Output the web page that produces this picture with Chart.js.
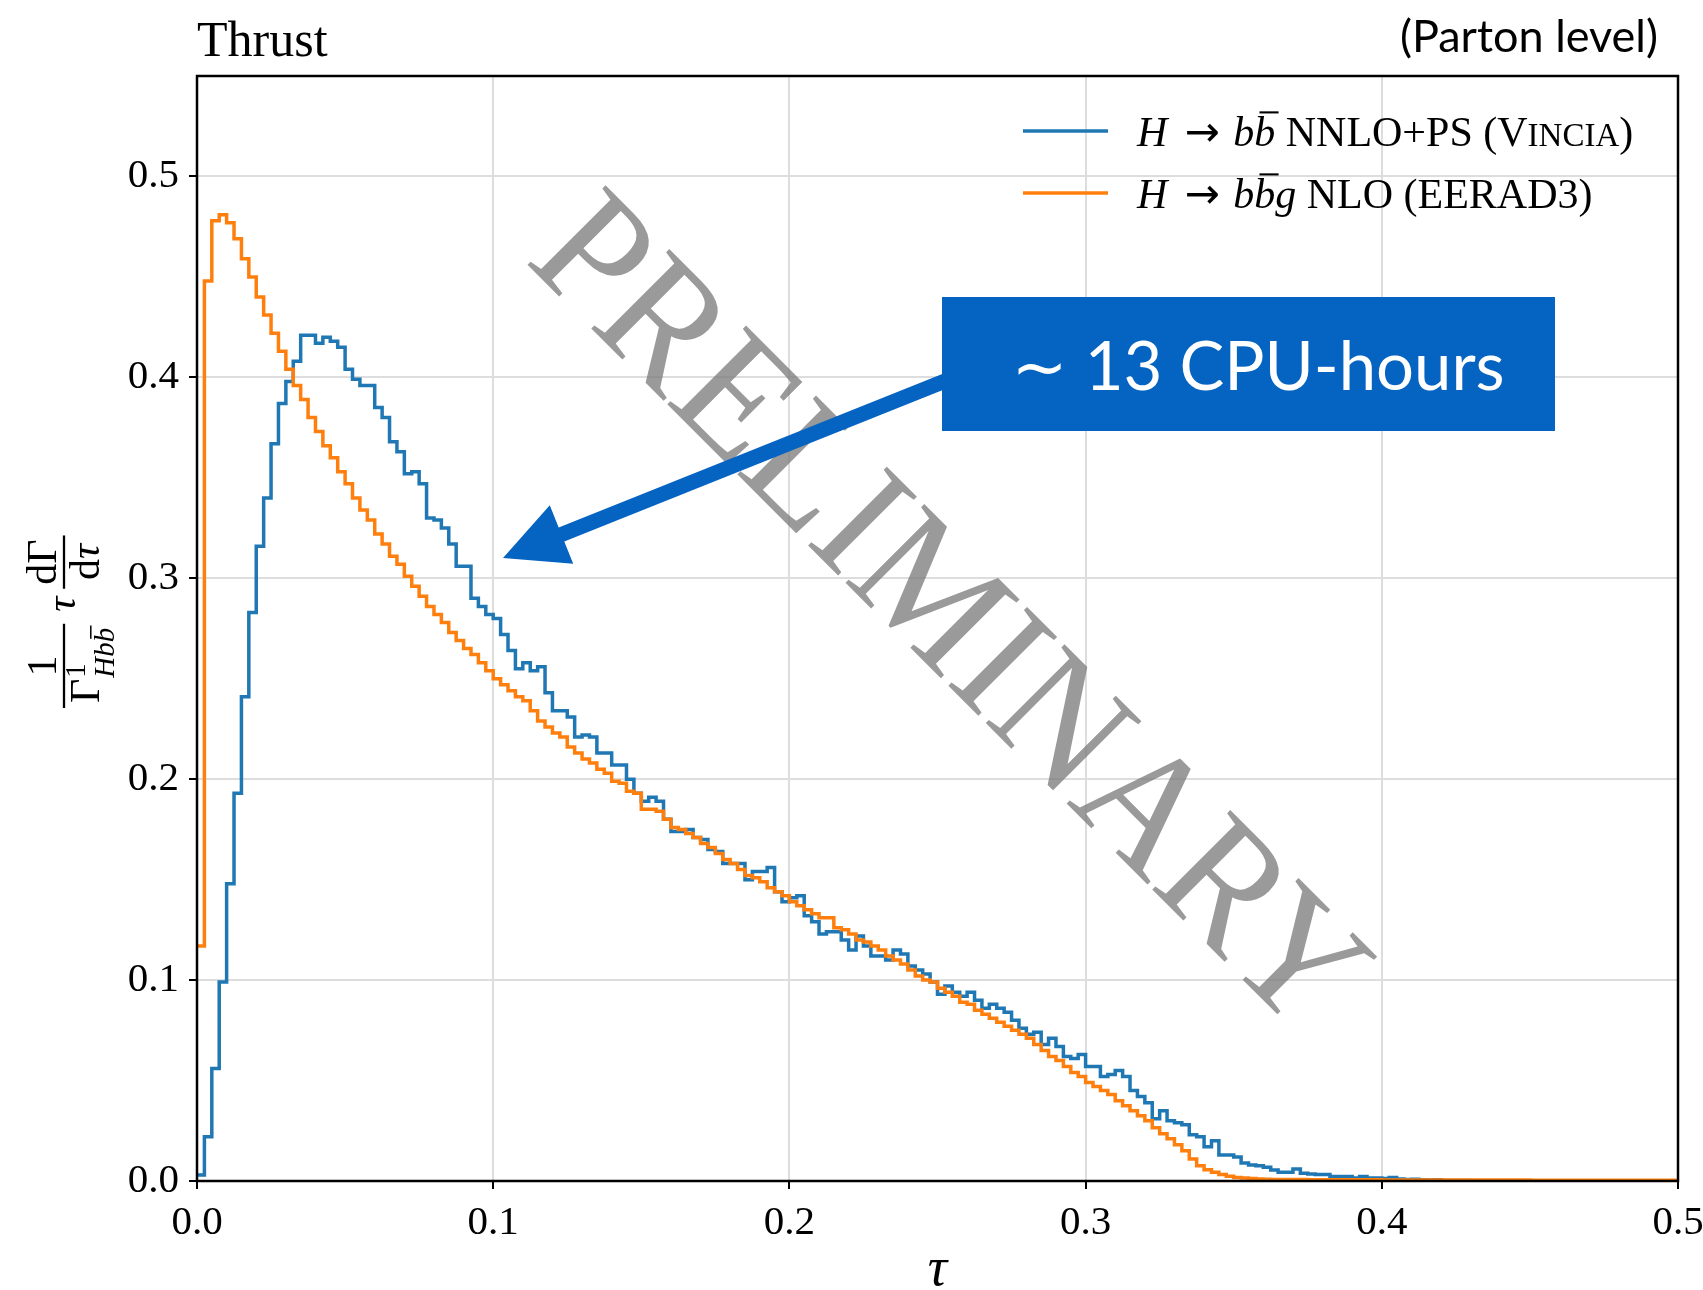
<!DOCTYPE html>
<html>
<head>
<meta charset="utf-8">
<title>Thrust</title>
<script src="https://cdn.jsdelivr.net/npm/chart.js@4"></script>
<style>
  html, body { margin: 0; padding: 0; background: #fff; }
  canvas { display: block; }
</style>
</head>
<body>
<canvas id="thrust" width="1703" height="1290"></canvas>
<script>
// thrust distribution, 200 bins of width 0.0025 in tau

const binWidth = 0.0025;
const tauTicks = [0.0, 0.1, 0.2, 0.3, 0.4, 0.5];
const yTicks = [0.0, 0.1, 0.2, 0.3, 0.4, 0.5];

// H -> bb NNLO+PS (Vincia)
const vinciaNNLOPS = [
  0.003, 0.022, 0.056, 0.099, 0.148, 0.193, 0.241, 0.283, 0.316, 0.340,
  0.367, 0.387, 0.398, 0.408, 0.421, 0.421, 0.417, 0.420, 0.418, 0.415,
  0.404, 0.399, 0.396, 0.396, 0.385, 0.380, 0.368, 0.363, 0.352, 0.353,
  0.347, 0.330, 0.329, 0.325, 0.317, 0.306, 0.306, 0.290, 0.286, 0.282,
  0.280, 0.272, 0.264, 0.255, 0.258, 0.254, 0.256, 0.243, 0.234, 0.234,
  0.231, 0.221, 0.222, 0.221, 0.213, 0.213, 0.207, 0.207, 0.200, 0.193,
  0.189, 0.191, 0.189, 0.180, 0.174, 0.174, 0.175, 0.171, 0.170, 0.165,
  0.164, 0.158, 0.158, 0.158, 0.150, 0.154, 0.154, 0.156, 0.144, 0.139,
  0.141, 0.142, 0.132, 0.129, 0.123, 0.124, 0.124, 0.120, 0.115, 0.122,
  0.117, 0.112, 0.112, 0.110, 0.115, 0.113, 0.107, 0.105, 0.103, 0.099,
  0.093, 0.097, 0.094, 0.092, 0.094, 0.090, 0.086, 0.088, 0.086, 0.084,
  0.080, 0.076, 0.073, 0.074, 0.068, 0.071, 0.067, 0.062, 0.061, 0.063,
  0.057, 0.057, 0.052, 0.053, 0.055, 0.052, 0.045, 0.042, 0.039, 0.031,
  0.035, 0.030, 0.029, 0.028, 0.023, 0.022, 0.017, 0.020, 0.013, 0.013,
  0.012, 0.009, 0.008, 0.0076, 0.0068, 0.0055, 0.0043, 0.0043, 0.006, 0.0038,
  0.0035, 0.0032, 0.0032, 0.0022, 0.0023, 0.0022, 0.0015, 0.0022, 0.0015, 0.0015,
  0.0013, 0.0018, 0.0010, 0.0008, 0.0009, 0.0006, 0.0005, 0.0006, 0.0003, 0.0003,
  0.0002, 0.0002, 0.0001, 0.0001, 0.0001, 0, 0, 0, 0, 0,
  0, 0, 0, 0, 0, 0, 0, 0, 0, 0,
  0, 0, 0, 0, 0, 0, 0, 0, 0, 0
];

// H -> bbg NLO (EERAD3)
const eerad3NLO = [
  0.117, 0.448, 0.478, 0.481, 0.477, 0.469, 0.459, 0.450, 0.440, 0.431,
  0.422, 0.413, 0.404, 0.396, 0.389, 0.380, 0.373, 0.366, 0.360, 0.353,
  0.347, 0.340, 0.334, 0.329, 0.322, 0.317, 0.311, 0.307, 0.301, 0.296,
  0.291, 0.286, 0.282, 0.278, 0.273, 0.269, 0.265, 0.262, 0.258, 0.254,
  0.250, 0.247, 0.244, 0.241, 0.239, 0.234, 0.229, 0.226, 0.223, 0.221,
  0.216, 0.213, 0.210, 0.208, 0.205, 0.203, 0.199, 0.198, 0.194, 0.193,
  0.185, 0.185, 0.184, 0.180, 0.176, 0.175, 0.173, 0.171, 0.168, 0.166,
  0.163, 0.160, 0.158, 0.155, 0.152, 0.151, 0.149, 0.146, 0.144, 0.142,
  0.139, 0.137, 0.135, 0.133, 0.131, 0.131, 0.126, 0.125, 0.123, 0.120,
  0.119, 0.117, 0.115, 0.112, 0.110, 0.108, 0.105, 0.102, 0.100, 0.099,
  0.096, 0.094, 0.092, 0.089, 0.088, 0.085, 0.083, 0.081, 0.079, 0.077,
  0.075, 0.073, 0.071, 0.068, 0.065, 0.062, 0.060, 0.057, 0.054, 0.052,
  0.049, 0.047, 0.045, 0.043, 0.040, 0.0375, 0.035, 0.0325, 0.030, 0.0265,
  0.0235, 0.021, 0.018, 0.015, 0.011, 0.0076, 0.0056, 0.0043, 0.0032, 0.0024,
  0.0018, 0.0015, 0.0012, 0.0010, 0.0009, 0.0008, 0.0008, 0.0007, 0.0007, 0.0007,
  0.0006, 0.0006, 0.0006, 0.0006, 0.0006, 0.0006, 0.0006, 0.0006, 0.0006, 0.0006,
  0.0005, 0.0005, 0.0005, 0.0005, 0.0005, 0.0005, 0.0005, 0.0005, 0.0005, 0.0005,
  0.0005, 0.0005, 0.0005, 0.0005, 0.0005, 0.0005, 0.0005, 0.0005, 0.0005, 0.0005,
  0.0004, 0.0004, 0.0004, 0.0004, 0.0004, 0.0004, 0.0004, 0.0004, 0.0004, 0.0004,
  0.0004, 0.0004, 0.0004, 0.0004, 0.0004, 0.0004, 0.0004, 0.0004, 0.0004, 0.0004
];

const SERIF = '"Liberation Serif", "DejaVu Serif", serif';
const SANS = 'Lato, "Open Sans", "DejaVu Sans", sans-serif';
const ARROW = '"DejaVu Sans", sans-serif';

// left bin edges plus the closing edge, for a stepped line
function toSteps(values) {
  const pts = values.map((v, i) => ({ x: i * binWidth, y: v }));
  pts.push({ x: values.length * binWidth, y: values[values.length - 1] });
  return pts;
}

// draws a row of text pieces with different fonts, returns end x
function drawRuns(ctx, runs, x, y) {
  let cx = x;
  runs.forEach(r => {
    ctx.font = r.font;
    const w = ctx.measureText(r.text).width;
    ctx.fillText(r.text, cx, y + (r.dy || 0));
    if (r.bar) {
      const size = parseFloat(r.font.match(/(\d+(\.\d+)?)px/)[1]);
      const by = y + (r.dy || 0) - size * 0.80;
      ctx.save();
      ctx.lineWidth = Math.max(1.5, size * 0.05);
      ctx.strokeStyle = ctx.fillStyle;
      ctx.beginPath();
      ctx.moveTo(cx + w * 0.25, by);
      ctx.lineTo(cx + w + size * 0.08, by);
      ctx.stroke();
      ctx.restore();
    }
    cx += w + (r.gap || 0);
  });
  return cx;
}

function runsWidth(ctx, runs) {
  let w = 0;
  runs.forEach(r => { ctx.font = r.font; w += ctx.measureText(r.text).width + (r.gap || 0); });
  return w;
}

const legendItems = [
  {
    color: '#1f77b4',
    runs: size => [
      { text: 'H', font: `italic ${size}px ${SERIF}`, gap: 4 },
      { text: ' \u2192 ', font: `${size}px ${ARROW}` },
      { text: 'b', font: `italic ${size}px ${SERIF}` },
      { text: 'b', font: `italic ${size}px ${SERIF}`, bar: true },
      { text: ' NNLO+PS (V', font: `${size}px ${SERIF}` },
      { text: 'INCIA', font: `${Math.round(size * 0.78)}px ${SERIF}` },
      { text: ')', font: `${size}px ${SERIF}` }
    ]
  },
  {
    color: '#ff7f0e',
    runs: size => [
      { text: 'H', font: `italic ${size}px ${SERIF}`, gap: 4 },
      { text: ' \u2192 ', font: `${size}px ${ARROW}` },
      { text: 'b', font: `italic ${size}px ${SERIF}` },
      { text: 'b', font: `italic ${size}px ${SERIF}`, bar: true },
      { text: 'g', font: `italic ${size}px ${SERIF}` },
      { text: ' NLO (EERAD3)', font: `${size}px ${SERIF}` }
    ]
  }
];

const decorations = {
  id: 'decorations',
  afterDatasetsDraw(chart) {
    const { ctx, chartArea: a } = chart;

    // PRELIMINARY watermark
    ctx.save();
    ctx.translate(944, 618);
    ctx.rotate(45 * Math.PI / 180);
    ctx.font = `170px ${SERIF}`;
    const w = ctx.measureText('PRELIMINARY').width;
    ctx.scale(1100 / w, 1);
    ctx.fillStyle = 'rgba(120,120,120,0.75)';
    ctx.textAlign = 'center';
    ctx.textBaseline = 'middle';
    ctx.fillText('PRELIMINARY', 0, 0);
    ctx.restore();

    // arrow towards the NNLO+PS curve
    const tail = { x: 960, y: 375 };
    const tip = { x: 503, y: 558 };
    const dx = tip.x - tail.x, dy = tip.y - tail.y;
    const len = Math.hypot(dx, dy);
    const ux = dx / len, uy = dy / len;
    const nx = -uy, ny = ux;
    const headLen = 63, headHalf = 31.5, shaft = 15;
    const bx = tip.x - ux * headLen, by = tip.y - uy * headLen;
    ctx.save();
    ctx.fillStyle = '#0563c1';
    ctx.strokeStyle = '#0563c1';
    ctx.lineWidth = shaft;
    ctx.beginPath();
    ctx.moveTo(tail.x, tail.y);
    ctx.lineTo(bx + ux * 4, by + uy * 4);
    ctx.stroke();
    ctx.beginPath();
    ctx.moveTo(tip.x, tip.y);
    ctx.lineTo(bx + nx * headHalf, by + ny * headHalf);
    ctx.lineTo(bx - nx * headHalf, by - ny * headHalf);
    ctx.closePath();
    ctx.fill();

    // CPU time box
    ctx.fillRect(942, 297, 613, 134);
    ctx.fillStyle = '#ffffff';
    ctx.font = `67px ${SANS}`;
    ctx.textAlign = 'center';
    ctx.textBaseline = 'middle';
    ctx.fillText('\u223C 13 CPU-hours', 1258, 368);
    ctx.restore();

    // legend
    ctx.save();
    ctx.textAlign = 'left';
    ctx.textBaseline = 'alphabetic';
    legendItems.forEach((item, i) => {
      const cy = 131 + i * 62;
      ctx.strokeStyle = item.color;
      ctx.lineWidth = 3.5;
      ctx.beginPath();
      ctx.moveTo(1023, cy);
      ctx.lineTo(1108, cy);
      ctx.stroke();
      ctx.fillStyle = '#000';
      drawRuns(ctx, item.runs(42), 1137, cy + 15);
    });
    ctx.restore();

    // axes frame
    ctx.save();
    ctx.strokeStyle = '#000';
    ctx.lineWidth = 2.5;
    ctx.strokeRect(a.left, a.top, a.right - a.left, a.bottom - a.top);
    ctx.restore();
  },
  afterDraw(chart) {
    const { ctx, chartArea: a } = chart;
    ctx.save();
    ctx.fillStyle = '#000';
    ctx.textBaseline = 'alphabetic';

    // titles above the frame
    ctx.textAlign = 'left';
    ctx.font = `50px ${SERIF}`;
    ctx.fillText('Thrust', a.left, 56);
    ctx.textAlign = 'right';
    ctx.font = `45px ${SANS}`;
    ctx.fillText('(Parton level)', 1658, 52);

    // x axis title
    ctx.textAlign = 'center';
    ctx.font = `italic 54px ${SERIF}`;
    ctx.fillText('\u03C4', (a.left + a.right) / 2, 1285);

    // y axis title: 1/Gamma^1_Hbb tau dGamma/dtau, rotated
    ctx.translate(64, 708);
    ctx.rotate(-Math.PI / 2);
    ctx.textAlign = 'left';
    const big = 42, small = 29;
    ctx.lineWidth = 2.3;
    ctx.strokeStyle = '#000';

    // first fraction
    const subRuns = [
      { text: 'H', font: `italic ${small}px ${SERIF}` },
      { text: 'b', font: `italic ${small}px ${SERIF}` },
      { text: 'b', font: `italic ${small}px ${SERIF}`, bar: true }
    ];
    ctx.font = `${big}px ${SERIF}`;
    const gw = ctx.measureText('\u0393').width;
    const sw = runsWidth(ctx, subRuns);
    const f1 = { x0: 0, x1: gw + sw + 10 };
    ctx.beginPath(); ctx.moveTo(f1.x0, 0); ctx.lineTo(f1.x1, 0); ctx.stroke();
    ctx.font = `${big}px ${SERIF}`;
    const one = ctx.measureText('1').width;
    ctx.fillText('1', (f1.x0 + f1.x1 - one) / 2, -8);
    const dx0 = f1.x0 + 5;
    ctx.font = `${big}px ${SERIF}`;
    ctx.fillText('\u0393', dx0, 35);
    ctx.font = `${small}px ${SERIF}`;
    ctx.fillText('1', dx0 + gw + 1, 21);
    drawRuns(ctx, subRuns, dx0 + gw + 1, 50);

    // tau
    ctx.font = `italic ${big}px ${SERIF}`;
    const tx = f1.x1 + 12;
    const tw = ctx.measureText('\u03C4').width;
    ctx.fillText('\u03C4', tx, 11);

    // second fraction
    const numRuns = [
      { text: 'd\u0393', font: `${big}px ${SERIF}` }
    ];
    const denRuns = [
      { text: 'd', font: `${big}px ${SERIF}` },
      { text: '\u03C4', font: `italic ${big}px ${SERIF}` }
    ];
    const nw = runsWidth(ctx, numRuns), dw = runsWidth(ctx, denRuns);
    const f2 = { x0: tx + tw + 8, x1: tx + tw + 8 + Math.max(nw, dw) + 8 };
    ctx.beginPath(); ctx.moveTo(f2.x0, 0); ctx.lineTo(f2.x1, 0); ctx.stroke();
    drawRuns(ctx, numRuns, (f2.x0 + f2.x1 - nw) / 2, -8);
    drawRuns(ctx, denRuns, (f2.x0 + f2.x1 - dw) / 2, 35);
    ctx.restore();
  }
};

const tickFont = { family: SERIF, size: 41 };

new Chart(document.getElementById('thrust').getContext('2d'), {
  type: 'line',
  data: {
    datasets: [
      {
        label: 'H \u2192 bb NNLO+PS (Vincia)',
        data: toSteps(vinciaNNLOPS),
        borderColor: '#1f77b4',
        borderWidth: 3.5,
        pointRadius: 0,
        stepped: 'before',
        fill: false,
        order: 2
      },
      {
        label: 'H \u2192 bbg NLO (EERAD3)',
        data: toSteps(eerad3NLO),
        borderColor: '#ff7f0e',
        borderWidth: 3.5,
        pointRadius: 0,
        stepped: 'before',
        fill: false,
        order: 1
      }
    ]
  },
  options: {
    responsive: false,
    animation: false,
    devicePixelRatio: 1,
    layout: { padding: { left: 0, right: 25, top: 76, bottom: 0 } },
    plugins: {
      legend: { display: false },
      tooltip: { enabled: false }
    },
    scales: {
      x: {
        type: 'linear',
        min: 0,
        max: 0.5,
        afterBuildTicks: s => { s.ticks = tauTicks.map(v => ({ value: v })); },
        ticks: {
          font: tickFont,
          color: '#000',
          padding: 10,
          maxRotation: 0,
          callback: v => Number(v).toFixed(1)
        },
        grid: { color: '#dddddd', lineWidth: 2, tickLength: 8, tickColor: '#000', tickWidth: 2 },
        border: { display: false },
        afterFit: s => { s.height = 109; s.paddingLeft = 0; s.paddingRight = 0; }
      },
      y: {
        type: 'linear',
        min: 0,
        max: 0.55,
        afterBuildTicks: s => { s.ticks = yTicks.map(v => ({ value: v })); },
        ticks: {
          font: tickFont,
          color: '#000',
          padding: 10,
          callback: v => Number(v).toFixed(1)
        },
        grid: { color: '#dddddd', lineWidth: 2, tickLength: 8, tickColor: '#000', tickWidth: 2 },
        border: { display: false },
        afterFit: s => { s.width = 197; s.paddingTop = 0; s.paddingBottom = 0; }
      }
    }
  },
  plugins: [decorations]
});
</script>
</body>
</html>
